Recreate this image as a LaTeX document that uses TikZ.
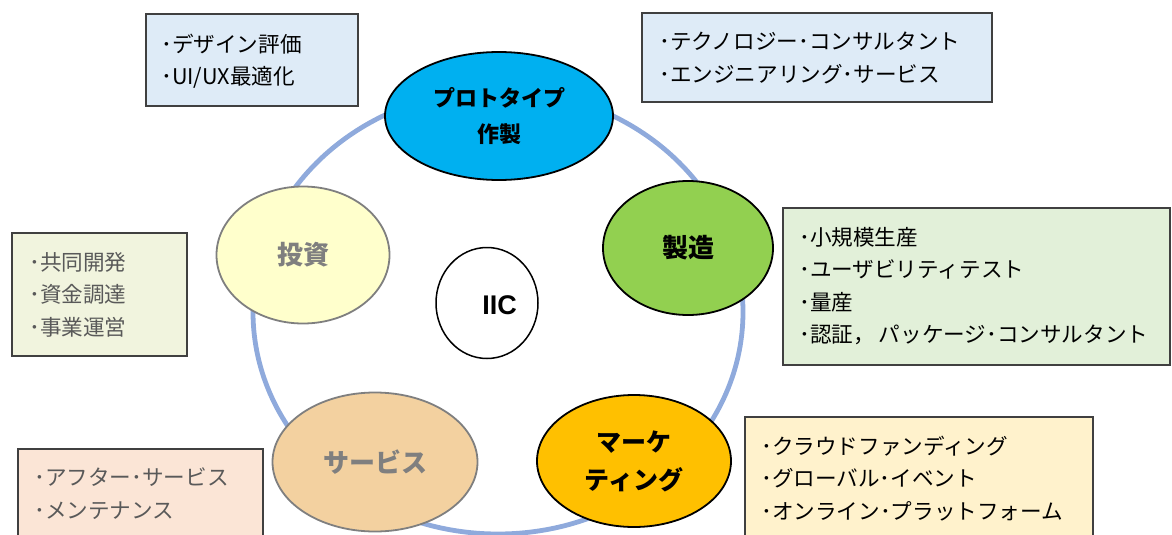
\documentclass[tikz,border=0pt]{standalone}
\usepackage{fontspec}
\usetikzlibrary{shapes.geometric}
\newfontfamily\jp{Noto Sans CJK JP}
\newfontfamily\lat{Liberation Sans}
\definecolor{ring}{HTML}{8FAADC}
\definecolor{protoC}{HTML}{00B0F0}
\definecolor{greenC}{HTML}{92D050}
\definecolor{orangeC}{HTML}{FFC000}
\definecolor{tanC}{HTML}{F3D1A0}
\definecolor{yelC}{HTML}{FFFFCC}
\definecolor{grayT}{HTML}{7F7F7F}
\definecolor{boxT}{HTML}{595959}
\definecolor{blueBox}{HTML}{DEEBF7}
\definecolor{greenBox}{HTML}{E2F0D9}
\definecolor{orangeBox}{HTML}{FFF2CC}
\definecolor{oliveBox}{HTML}{F1F4DE}
\definecolor{pinkBox}{HTML}{FBE5D6}
\definecolor{boxLine}{HTML}{404040}
\tikzset{
  bubble/.style={ellipse, draw=black, line width=1.8pt, inner sep=0pt, align=center, font=\jp\bfseries},
  graybubble/.style={bubble, draw=grayT, text=grayT},
  infobox/.style={rectangle, draw=boxLine, line width=1.3pt, inner sep=0pt},
  infotext/.style={anchor=west, inner sep=0pt, align=left, font=\jp\fontsize{21.6}{32.5}\selectfont},
}
\begin{document}
\begin{tikzpicture}[x=1pt,y=-1pt]
\useasboundingbox (0,0) rectangle (1172,535);
\begin{scope}
\clip (0,0) rectangle (1172,535);
% ring
\node[ellipse, draw=ring, line width=4.8pt, minimum width=490pt, minimum height=444pt, inner sep=0pt] (ring) at (498,312) {};
% bubbles
\node[bubble, fill=protoC, minimum width=228pt, minimum height=128pt, font=\jp\bfseries\fontsize{22}{36}\selectfont] (proto) at (499,116) {プロトタイプ\\作製};
\node[bubble, fill=greenC, minimum width=170pt, minimum height=134pt, font=\jp\bfseries\fontsize{26}{30}\selectfont] (mfg) at (688,248) {製造};
\node[bubble, fill=orangeC, minimum width=194pt, minimum height=132pt, font=\jp\bfseries\fontsize{25}{38}\selectfont] (mkt) at (634,461) {マーケ\\ティング};
\node[graybubble, fill=tanC, minimum width=205pt, minimum height=139pt, font=\jp\bfseries\fontsize{26}{30}\selectfont] (svc) at (375,462) {サービス};
\node[graybubble, fill=yelC, minimum width=173pt, minimum height=137pt, font=\jp\bfseries\fontsize{26}{30}\selectfont] (inv) at (303,255) {投資};
\node[bubble, fill=white, line width=1.5pt, minimum width=102pt, minimum height=111pt] (iic) at (487,303) {};
\node[inner sep=0pt, font=\lat\bfseries\fontsize{27}{30}\selectfont] (iict) at (499.5,305) {IIC};
% boxes
\node[infobox, fill=blueBox, minimum width=212pt, minimum height=92pt] (b1) at (252,60) {};
\node[infotext] (t1) at (161,61) {･デザイン評価\\･UI/UX最適化};
\node[infobox, fill=blueBox, minimum width=350pt, minimum height=89pt] (b2) at (817,57.5) {};
\node[infotext] (t2) at (659,58) {･テクノロジー･コンサルタント\\･エンジニアリング･サービス};
\node[infobox, fill=greenBox, minimum width=387pt, minimum height=157pt] (b3) at (976.5,286.5) {};
\node[infotext] (t3) at (799,286) {･小規模生産\\･ユーザビリティテスト\\･量産\\･認証，\hspace{4pt}パッケージ･コンサルタント};
\node[infobox, fill=orangeBox, minimum width=348pt, minimum height=140pt] (b4) at (919,487) {};
\node[infotext] (t4) at (761,478.5) {･クラウドファンディング\\･グローバル･イベント\\･オンライン･プラットフォーム};
\node[infobox, fill=oliveBox, minimum width=175pt, minimum height=123pt] (b5) at (99.5,294.5) {};
\node[infotext, text=boxT] (t5) at (29,294.5) {･共同開発\\･資金調達\\･事業運営};
\node[infobox, fill=pinkBox, minimum width=245pt, minimum height=110pt] (b6) at (140.5,504) {};
\node[infotext, text=boxT] (t6) at (34,493.5) {･アフター･サービス\\･メンテナンス};
\end{scope}
\end{tikzpicture}
\end{document}
